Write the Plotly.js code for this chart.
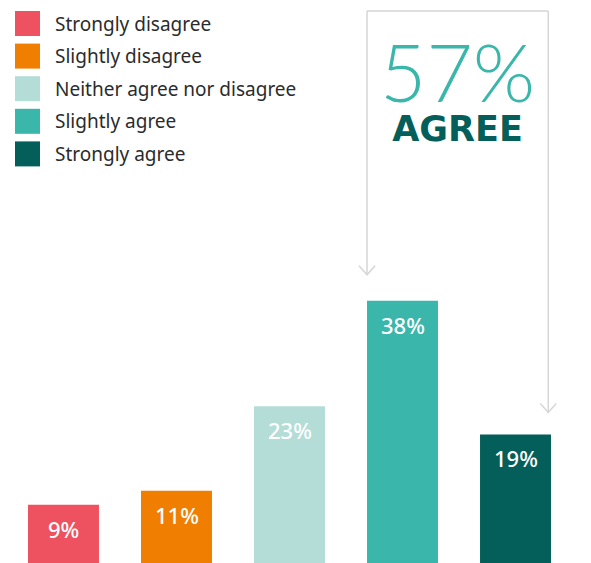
<!DOCTYPE html>
<html>
<head>
<meta charset="utf-8">
<script src="https://cdn.plot.ly/plotly-3.0.1.min.js"></script>
<style>html,body{margin:0;padding:0;background:#fff;}#chart{width:591px;height:563px;}</style>
</head>
<body>
<div id="chart"></div>
<script>
const categories = ["Strongly disagree", "Slightly disagree", "Neither agree nor disagree", "Slightly agree", "Strongly agree"];
const values = [9, 11, 23, 38, 19];
const colors = ["#ee5261", "#f07e00", "#b4ddd8", "#3ab6ab", "#045e59"];
const agreeIdx = [3, 4];

const W = 591, H = 563, ML = 7, MR = 19;
const PW = W - ML - MR;
const PXPER = 7.03;                 // pixels per percentage point
const YMIN = 5 / PXPER;             // bars run a little past the bottom edge
const YMAX = YMIN + H / PXPER;
const px2x = p => (p - ML) / PW;
const px2y = p => 1 - p / H;
const px2data = p => YMAX - p / PXPER;

const trace = {
  type: "bar",
  x: categories.map((c, i) => i),
  y: values,
  marker: { color: colors },
  width: 0.628,
  hoverinfo: "none",
  showlegend: false
};

const annotations = [];
const shapes = [];

values.forEach((v, i) => {
  annotations.push({
    x: i, y: v, xref: "x", yref: "y", yanchor: "top", xanchor: "center",
    yshift: -7, showarrow: false, text: v + "%",
    font: { family: "Noto Sans", size: 22, color: "#ffffff", weight: 500 }
  });
});

categories.forEach((c, i) => {
  const top = 11 + i * 32.6;
  shapes.push({
    type: "rect", xref: "paper", yref: "paper",
    x0: px2x(15), x1: px2x(40), y0: px2y(top + 25), y1: px2y(top),
    fillcolor: colors[i], line: { width: 0 }
  });
  annotations.push({
    xref: "paper", yref: "paper", x: px2x(53), y: px2y(top + 12.5),
    xanchor: "left", yanchor: "middle", showarrow: false, text: c,
    font: { family: "Noto Sans", size: 19, color: "#2b2b2b" }
  });
});

const agreeTotal = agreeIdx.reduce((s, i) => s + values[i], 0);
const leftX = agreeIdx[0] - 0.314;
const rightX = agreeIdx[1] + 0.29;
const topY = px2data(11);
const tipL = values[agreeIdx[0]] + 26 / PXPER;
const tipR = values[agreeIdx[1]] + 22 / PXPER;
const lineStyle = { color: "#d6d6d6", width: 1.5 };
shapes.push({ type: "line", xref: "x", yref: "y", x0: leftX, x1: leftX, y0: tipL, y1: topY, line: lineStyle });
shapes.push({ type: "line", xref: "x", yref: "y", x0: leftX, x1: rightX, y0: topY, y1: topY, line: lineStyle });
shapes.push({ type: "line", xref: "x", yref: "y", x0: rightX, x1: rightX, y0: topY, y1: tipR, line: lineStyle });
[[leftX, tipL], [rightX, tipR]].forEach(([ax, ay]) => {
  shapes.push({
    type: "path", xref: "x", yref: "y", xsizemode: "pixel", ysizemode: "pixel",
    xanchor: ax, yanchor: ay,
    path: "M -8 9 L 0 0 L 8 9", line: lineStyle
  });
});

annotations.push({
  xref: "paper", yref: "paper", x: px2x(457), y: px2y(21), xanchor: "center", yanchor: "top",
  showarrow: false, align: "center",
  text: "<span style='font-family:Lato;font-weight:300;font-size:80px;color:#3ab6ab'>" + agreeTotal + "%</span><br>" +
        "<span style='font-family:DejaVu Sans;font-weight:bold;font-size:35px;color:#045e59'>AGREE</span>",
  font: { family: "Lato", size: 30, color: "#045e59" }
});

const layout = {
  width: W, height: H,
  margin: { l: ML, r: MR, t: 0, b: 0, pad: 0 },
  paper_bgcolor: "#ffffff", plot_bgcolor: "#ffffff",
  xaxis: { range: [-0.5, 4.5], visible: false, fixedrange: true },
  yaxis: { range: [YMIN, YMAX], visible: false, fixedrange: true },
  showlegend: false,
  annotations: annotations,
  shapes: shapes
};

Plotly.newPlot("chart", [trace], layout, { displayModeBar: false, staticPlot: true });
</script>
</body>
</html>
